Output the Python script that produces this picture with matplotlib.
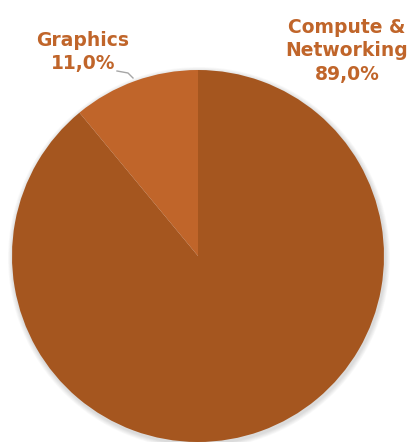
import matplotlib.pyplot as plt
from matplotlib.patches import Circle

# data
segments = ['Compute &\nNetworking', 'Graphics']
shares = [89.0, 11.0]
slice_colors = ['#A5561F', '#C0652A']

W, H = 414, 442

fig = plt.figure(figsize=(W / 100, H / 100), dpi=100)
ax = fig.add_axes([0, 0, 1, 1])

cx, cy, r = 198, H - 256, 186

# soft shadow behind the pie
for i in range(6):
    ax.add_patch(Circle((cx + 1, cy - 2), r + 1 + i * 0.8, color='#000000',
                        alpha=0.025, lw=0, zorder=0))

wedges, _ = ax.pie(shares, colors=slice_colors, startangle=90, counterclock=False,
                   center=(cx, cy), radius=r, frame=True,
                   wedgeprops=dict(linewidth=0))
ax.set_xlim(0, W)
ax.set_ylim(0, H)
ax.set_aspect('equal')
ax.axis('off')

label_color = '#C0652A'
font = dict(color=label_color, fontsize=13.5, fontweight='bold', family='DejaVu Sans',
            ha='center', va='center', linespacing=1.3)

ax.text(347, H - 51, f"{segments[0]}\n{shares[0]:.1f}%".replace('.', ','), **font)
ax.text(83, H - 52, f"{segments[1]}\n{shares[1]:.1f}%".replace('.', ','), **font)

# leader line for Graphics
ax.plot([117, 128, 133], [H - 71, H - 73, H - 78], color='#A6A6A6', lw=1, zorder=5)

fig.savefig('out.png', dpi=100)
